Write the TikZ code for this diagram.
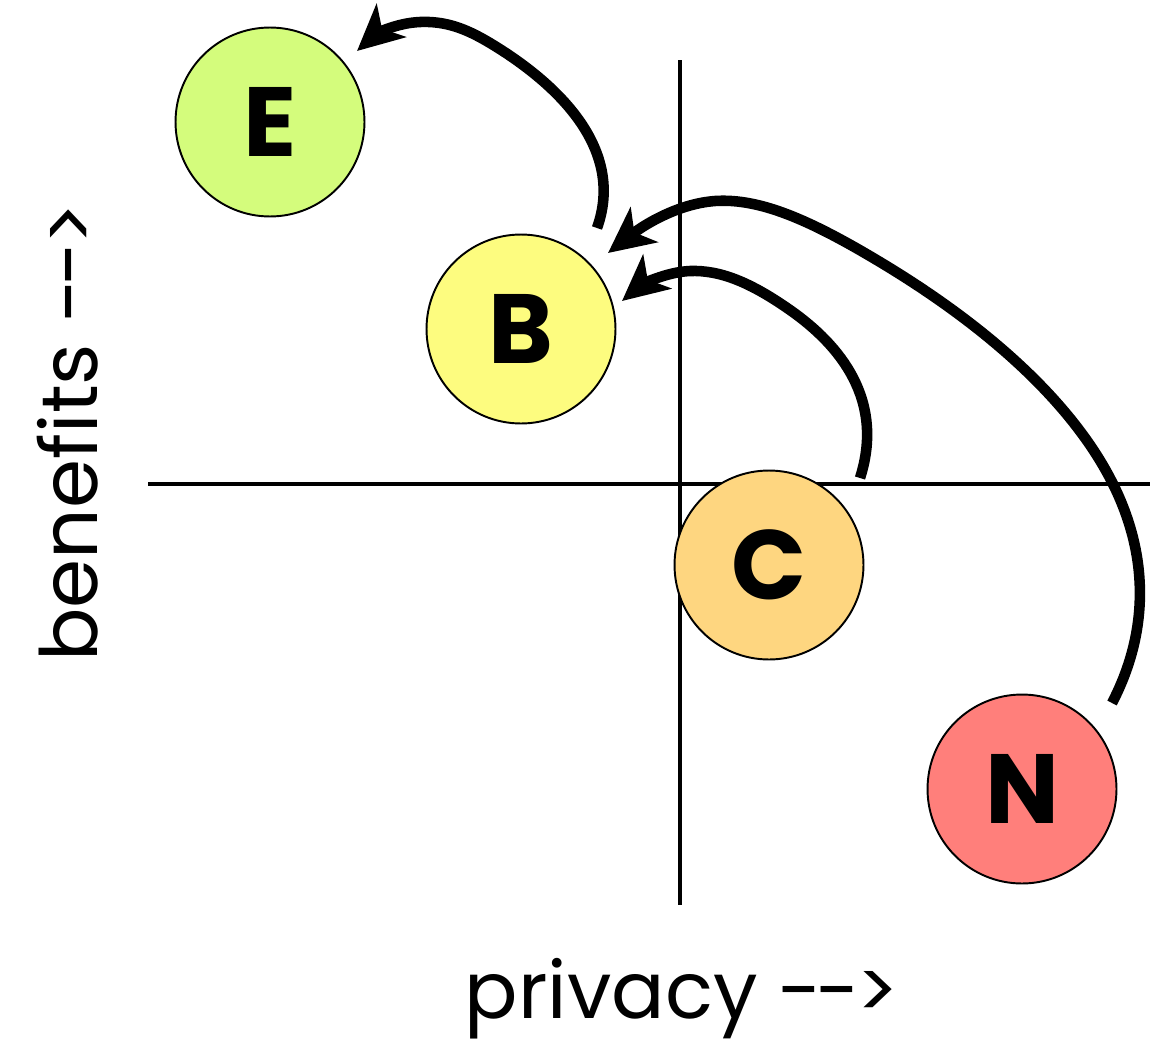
\documentclass[tikz,border=0pt]{standalone}
\usepackage{fontspec}
\setmainfont{Poppins}
\usetikzlibrary{arrows.meta}
\definecolor{cE}{HTML}{D4FC7C}
\definecolor{cB}{HTML}{FDFC7F}
\definecolor{cC}{HTML}{FED680}
\definecolor{cN}{HTML}{FF7F7B}
\tikzset{
  bubble/.style={circle, draw=black, line width=1.1pt, minimum size=3.78cm, inner sep=0pt,
    font=\fontsize{56}{56}\selectfont\bfseries},
  axis/.style={line width=2pt},
  move/.style={line width=6pt, -{Stealth[length=26pt,width=25pt,inset=7pt]}},
  label/.style={font=\fontsize{45}{45}\selectfont, inner sep=0pt}
}
\newcommand{\arr}{-\kern-0.08em-\kern-0.04em>}
\begin{document}
\begin{tikzpicture}[x=0.02cm,y=-0.02cm]
\useasboundingbox (0,0) rectangle (1162,1048);
% axes
\coordinate (vtop) at (680,60);
\coordinate (vbot) at (680,905);
\coordinate (hl) at (148,484);
\coordinate (hr) at (1150,484);
\draw[axis] (vtop) -- (vbot);
\draw[axis] (hl) -- (hr);
% bubbles
\node[bubble, fill=cE] (E) at (270,122) {E};
\node[bubble, fill=cB] (B) at (521,329) {B};
\node[bubble, fill=cC] (C) at (769,565) {C};
\node[bubble, fill=cN] (N) at (1022,789) {N};
% arrow end points
\coordinate (bs) at (597,228);
\coordinate (et) at (357,51);
\coordinate (cs) at (860,478);
\coordinate (bt1) at (622,301);
\coordinate (ns) at (1112,703);
\coordinate (bt2) at (608,253);
% arrows
\draw[move] (bs) .. controls (625,150) and (560,85) .. (490,43)
  .. controls (465,28) and (445,21) .. (420,22)
  .. controls (395,23) and (375,35) .. (et);
\draw[move] (cs) .. controls (885,400) and (840,345) .. (790,310)
  .. controls (750,282) and (720,270) .. (690,271)
  .. controls (665,272) and (640,286) .. (bt1);
\draw[move] (ns) .. controls (1150,630) and (1155,540) .. (1090,445)
  .. controls (1040,372) and (960,310) .. (880,262)
  .. controls (810,220) and (760,198) .. (715,201)
  .. controls (675,204) and (640,228) .. (bt2);
% labels
\node[label, anchor=base] (px) at (682,1018) {privacy \arr};
\node[label, anchor=base, rotate=90] (by) at (97,432) {benefits \arr};
\end{tikzpicture}
\end{document}
